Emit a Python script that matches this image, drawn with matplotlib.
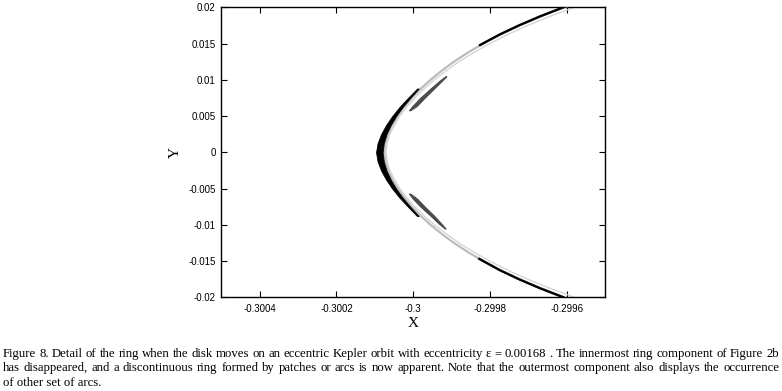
import matplotlib
matplotlib.use("Agg")
import matplotlib.pyplot as plt

# ---- data (X, Y in orbit units) ----
# light-gray main ring component (y -> x)
gray_a_y = [-0.0205, -0.02, -0.01875, -0.0175, -0.01625, -0.015, -0.01375, -0.0125,
            -0.01125, -0.01, -0.00875, -0.0075, -0.00625, -0.005, -0.00375, -0.0025,
            -0.00125, 0.0, 0.00125, 0.0025, 0.00375, 0.005, 0.00625, 0.0075, 0.00875,
            0.01, 0.01125, 0.0125, 0.01375, 0.015, 0.01625, 0.0175, 0.01875, 0.02, 0.0205]
gray_a_x = [-0.299582, -0.299607, -0.299668, -0.299723, -0.299773, -0.299818, -0.299858,
            -0.299894, -0.299926, -0.299955, -0.299981, -0.300004, -0.300024, -0.300041,
            -0.300055, -0.300066, -0.300073, -0.300076, -0.300073, -0.300066, -0.300055,
            -0.300041, -0.300024, -0.300004, -0.299981, -0.299955, -0.299926, -0.299894,
            -0.299858, -0.299818, -0.299773, -0.299723, -0.299668, -0.299607, -0.299582]

# thinner, lighter companion line just outside
gray_b_y = [-0.0205, -0.02, -0.01875, -0.0175, -0.01625, -0.015, -0.01375, -0.0125,
            -0.01125, -0.01, -0.00875, -0.0075, -0.00625, -0.005, -0.00375, -0.0025,
            -0.00125, 0.0, 0.00125, 0.0025, 0.00375, 0.005, 0.00625, 0.0075, 0.00875,
            0.01, 0.01125, 0.0125, 0.01375, 0.015, 0.01625, 0.0175, 0.01875, 0.02, 0.0205]
gray_b_x = [-0.299554, -0.299580, -0.299644, -0.299702, -0.299754, -0.299801, -0.299843,
            -0.299881, -0.299914, -0.299945, -0.299972, -0.299996, -0.300017, -0.300035,
            -0.300049, -0.300061, -0.300068, -0.300071, -0.300068, -0.300061, -0.300049,
            -0.300035, -0.300017, -0.299996, -0.299972, -0.299945, -0.299914, -0.299881,
            -0.299843, -0.299801, -0.299754, -0.299702, -0.299644, -0.299580, -0.299554]

# black crescent at the pericentre side: y, inner (left) and outer (right) edge
arc_y = [-0.0088, -0.0075, -0.00625, -0.005, -0.00375, -0.0025, -0.00125, 0.0,
         0.00125, 0.0025, 0.00375, 0.005, 0.00625, 0.0075, 0.0088]
arc_left = [-0.299990, -0.300014, -0.300036, -0.300055, -0.300071, -0.300084, -0.300093,
            -0.300097, -0.300093, -0.300084, -0.300071, -0.300055, -0.300036, -0.300014,
            -0.299990]
arc_right = [-0.299986, -0.300008, -0.300028, -0.300045, -0.300059, -0.300070, -0.300077,
             -0.300080, -0.300077, -0.300070, -0.300059, -0.300045, -0.300028, -0.300008,
             -0.299986]

# black arcs on the outer branches
top_arc_y = [0.0148, 0.01625, 0.0175, 0.01875, 0.0201]
top_arc_x = [-0.299826, -0.299775, -0.299725, -0.299670, -0.299604]
bot_arc_y = [-0.0147, -0.01625, -0.0175, -0.01875, -0.0200]
bot_arc_x = [-0.299828, -0.299775, -0.299725, -0.299670, -0.299609]

# dark-gray patches (y, left edge, right edge)
patch_top_y = [0.0058, 0.0064, 0.0075, 0.0088, 0.0099, 0.0105]
patch_top_l = [-0.300011, -0.300002, -0.299982, -0.299955, -0.299931, -0.299916]
patch_top_r = [-0.300008, -0.299991, -0.299971, -0.299946, -0.299925, -0.299914]
patch_bot_y = [-0.0057, -0.0064, -0.0075, -0.0088, -0.0099, -0.0105]
patch_bot_l = [-0.300011, -0.300001, -0.299981, -0.299954, -0.299932, -0.299918]
patch_bot_r = [-0.300008, -0.299990, -0.299970, -0.299945, -0.299926, -0.299916]

x_ticks = [-0.3004, -0.3002, -0.3, -0.2998, -0.2996]
x_tick_labels = ["-0.3004", "-0.3002", "-0.3", "-0.2998", "-0.2996"]
y_ticks = [-0.02, -0.015, -0.01, -0.005, 0, 0.005, 0.01, 0.015, 0.02]
y_tick_labels = ["-0.02", "-0.015", "-0.01", "-0.005", "0", "0.005", "0.01", "0.015", "0.02"]

caption = [
    "Figure 8. Detail of the ring when the disk moves on an eccentric Kepler orbit with "
    "eccentricity \u03b5 = 0.00168 . The innermost ring component of Figure 2b",
    "has disappeared, and a discontinuous ring formed by patches or arcs is now apparent. "
    "Note that the outermost component also displays the occurrence",
    "of other set of arcs.",
]

W, H = 782, 391
fig = plt.figure(figsize=(W / 100, H / 100), dpi=100)
ax = fig.add_axes([0.283, 0.2396, 0.491, 0.7417])

ax.plot(gray_b_x, gray_b_y, color="#d2d2d2", lw=0.9, zorder=2)
ax.plot(gray_a_x, gray_a_y, color="#bbbbbb", lw=1.6, zorder=3)
ax.fill_betweenx(arc_y, arc_left, arc_right, color="black", lw=0.6, zorder=4)
ax.plot(top_arc_x, top_arc_y, color="black", lw=1.7, zorder=4)
ax.plot(bot_arc_x, bot_arc_y, color="black", lw=1.7, zorder=4)
ax.fill_betweenx(patch_top_y, patch_top_l, patch_top_r, color="#4a4a4a", lw=0.8, zorder=4)
ax.fill_betweenx(patch_bot_y, patch_bot_l, patch_bot_r, color="#4a4a4a", lw=0.8, zorder=4)

ax.set_xlim(-0.3005, -0.2995)
ax.set_ylim(-0.02, 0.02)
ax.set_xticks(x_ticks)
ax.set_xticklabels(x_tick_labels, fontfamily="Liberation Sans", fontsize=7)
ax.set_yticks(y_ticks)
ax.set_yticklabels(y_tick_labels, fontfamily="Liberation Sans", fontsize=7)
ax.tick_params(direction="in", top=True, right=True, length=4, width=0.8)
ax.tick_params(axis="x", pad=5)
ax.tick_params(axis="y", pad=4)
for sp in ax.spines.values():
    sp.set_linewidth(1.0)

ax.set_xlabel("X", fontfamily="Liberation Serif", fontsize=11, labelpad=2)
ax.set_ylabel("Y", fontfamily="Liberation Serif", fontsize=11, labelpad=5)

# caption, justified like the paper's text block
renderer = fig.canvas.get_renderer()
left_px, right_px = 2.7, 779.0
cap_kw = dict(fontfamily="Liberation Serif", fontsize=9.15, ha="left", va="baseline")
for i, line in enumerate(caption):
    y = 0.0877 - i * 0.0375
    if i == len(caption) - 1:
        fig.text(left_px / W, y, line, **cap_kw)
        continue
    words = line.split(" ")
    texts = [fig.text(0, y, w, **cap_kw) for w in words]
    widths = [t.get_window_extent(renderer).width for t in texts]
    gap = (right_px - left_px - sum(widths)) / (len(words) - 1)
    x = left_px
    for t, w in zip(texts, widths):
        t.set_x(x / W)
        x += w + gap

fig.savefig("out.png", dpi=100)
